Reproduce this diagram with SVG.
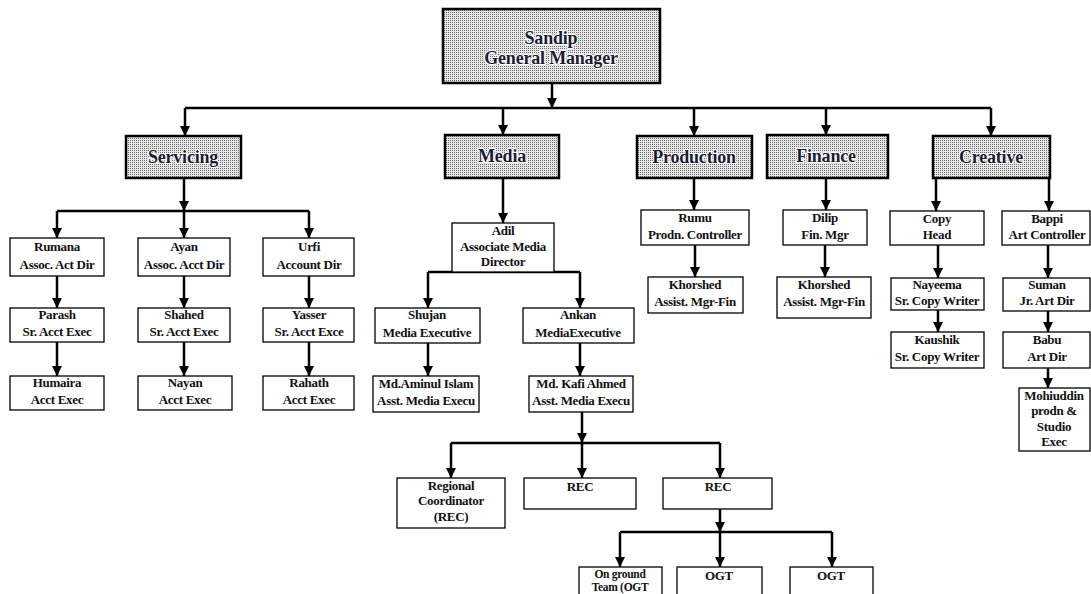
<svg xmlns="http://www.w3.org/2000/svg" width="1091" height="594" viewBox="0 0 1091 594" font-family="'Liberation Serif', 'Times New Roman', Tinos, 'DejaVu Serif', serif">
<style>
.box{fill:#fff;stroke:#000;stroke-width:1.3}
.hdr{fill:url(#dots);stroke:#000;stroke-width:2.5}
text{font-family:'Liberation Serif','Times New Roman',Tinos,'DejaVu Serif',serif}
.t{font-weight:bold;font-size:13px;text-anchor:middle;fill:#111;letter-spacing:-0.3px}
.ht{font-size:18px;fill:#1b1b33;stroke:#fff;stroke-width:2.2;paint-order:stroke;stroke-linejoin:round;letter-spacing:-0.2px}
.sm{font-size:11.5px}
.c{stroke:#000;stroke-width:2.5;fill:none}
.a{marker-end:url(#arr)}
</style>
<defs>
<pattern id="dots" width="2" height="2" patternUnits="userSpaceOnUse">
<rect width="2" height="2" fill="#e6e6e6"/>
<rect width="1" height="1" fill="#6e6e6e"/>
</pattern>
<marker id="arr" markerUnits="userSpaceOnUse" markerWidth="11" markerHeight="11" refX="10" refY="5" orient="auto">
<path d="M0,0 L10,5 L0,10 z" fill="#000"/>
</marker>
</defs>

<g id="connectors">
<path class="c a" d="M552,83 V108"/>
<path class="c" d="M185,108 H991"/>
<path class="c a" d="M185,108 V136"/>
<path class="c a" d="M503,108 V135"/>
<path class="c a" d="M694,108 V136"/>
<path class="c a" d="M826,108 V135"/>
<path class="c a" d="M991,108 V136"/>
<path class="c a" d="M184,178 V211"/>
<path class="c" d="M57,211 H309"/>
<path class="c a" d="M57,211 V238"/>
<path class="c a" d="M184,211 V238"/>
<path class="c a" d="M309,211 V238"/>
<path class="c a" d="M57,276 V308"/>
<path class="c a" d="M184,276 V308"/>
<path class="c a" d="M309,276 V308"/>
<path class="c a" d="M57,342 V376"/>
<path class="c a" d="M184,342 V376"/>
<path class="c a" d="M309,342 V376"/>
<path class="c a" d="M503,178 V223"/>
<path class="c" d="M428,272 H580"/>
<path class="c a" d="M428,272 V308"/>
<path class="c a" d="M580,272 V308"/>
<path class="c a" d="M428,343 V376"/>
<path class="c a" d="M580,343 V376"/>
<path class="c a" d="M582,412 V443"/>
<path class="c" d="M451,443 H720"/>
<path class="c a" d="M451,443 V478"/>
<path class="c a" d="M582,443 V478"/>
<path class="c a" d="M720,443 V478"/>
<path class="c a" d="M720,509 V532"/>
<path class="c" d="M620,532 H832"/>
<path class="c a" d="M620,532 V567"/>
<path class="c a" d="M720,532 V567"/>
<path class="c a" d="M832,532 V567"/>
<path class="c a" d="M694,178 V210"/>
<path class="c a" d="M695,245 V277"/>
<path class="c a" d="M826,178 V210"/>
<path class="c a" d="M825,245 V277"/>
<path class="c a" d="M936,178 V211"/>
<path class="c a" d="M1049,178 V211"/>
<path class="c a" d="M938,245 V278"/>
<path class="c a" d="M938,310 V332"/>
<path class="c a" d="M1048,245 V278"/>
<path class="c a" d="M1048,311 V332"/>
<path class="c a" d="M1048,368 V388"/>
</g>

<g id="gm"><rect class="hdr" x="443" y="9" width="217" height="74"/><text class="t ht" x="551" y="44">Sandip</text><text class="t ht" x="551" y="64">General Manager</text></g>
<g id="servicing"><rect class="hdr" x="126" y="136" width="115" height="42"/><text class="t ht" x="183" y="163">Servicing</text></g>
<g id="media"><rect class="hdr" x="445" y="135" width="114" height="43"/><text class="t ht" x="502" y="162">Media</text></g>
<g id="production"><rect class="hdr" x="637" y="136" width="115" height="42"/><text class="t ht" x="694" y="163">Production</text></g>
<g id="finance"><rect class="hdr" x="767" y="135" width="121" height="43"/><text class="t ht" x="826" y="162">Finance</text></g>
<g id="creative"><rect class="hdr" x="933" y="136" width="117" height="42"/><text class="t ht" x="991" y="163">Creative</text></g>

<g id="rumana"><rect class="box" x="10" y="238" width="94" height="38"/><text class="t" x="57" y="251">Rumana</text><text class="t" x="57" y="269">Assoc. Act Dir</text></g>
<g id="ayan"><rect class="box" x="138" y="238" width="92" height="38"/><text class="t" x="184" y="251">Ayan</text><text class="t" x="184" y="269">Assoc. Acct Dir</text></g>
<g id="urfi"><rect class="box" x="263" y="238" width="91" height="38"/><text class="t" x="309" y="251">Urfi</text><text class="t" x="309" y="269">Account Dir</text></g>
<g id="parash"><rect class="box" x="10" y="308" width="94" height="34"/><text class="t" x="57" y="319">Parash</text><text class="t" x="57" y="336">Sr. Acct Exec</text></g>
<g id="shahed"><rect class="box" x="138" y="308" width="92" height="34"/><text class="t" x="184" y="319">Shahed</text><text class="t" x="184" y="336">Sr. Acct Exec</text></g>
<g id="yasser"><rect class="box" x="263" y="308" width="91" height="34"/><text class="t" x="309" y="319">Yasser</text><text class="t" x="309" y="336">Sr. Acct Exce</text></g>
<g id="humaira"><rect class="box" x="10" y="376" width="94" height="34"/><text class="t" x="57" y="387">Humaira</text><text class="t" x="57" y="404">Acct Exec</text></g>
<g id="nayan"><rect class="box" x="138" y="376" width="94" height="34"/><text class="t" x="185" y="387">Nayan</text><text class="t" x="185" y="404">Acct Exec</text></g>
<g id="rahath"><rect class="box" x="263" y="376" width="91" height="34"/><text class="t" x="309" y="387">Rahath</text><text class="t" x="309" y="404">Acct Exec</text></g>

<g id="adil"><rect class="box" x="452" y="223" width="102" height="49"/><text class="t" x="503" y="235">Adil</text><text class="t" x="503" y="251">Associate Media</text><text class="t" x="503" y="266">Director</text></g>
<g id="shujan"><rect class="box" x="375" y="308" width="105" height="35"/><text class="t" x="427" y="319">Shujan</text><text class="t" x="427" y="337">Media Executive</text></g>
<g id="ankan"><rect class="box" x="523" y="308" width="111" height="35"/><text class="t" x="578" y="319">Ankan</text><text class="t" x="578" y="337">MediaExecutive</text></g>
<g id="aminul"><rect class="box" x="373" y="376" width="106" height="36"/><text class="t" x="426" y="388">Md.Aminul Islam</text><text class="t" x="426" y="405">Asst. Media Execu</text></g>
<g id="kafi"><rect class="box" x="529" y="376" width="104" height="36"/><text class="t" x="581" y="388">Md. Kafi Ahmed</text><text class="t" x="581" y="405">Asst. Media Execu</text></g>
<g id="regional"><rect class="box" x="397" y="478" width="108" height="50"/><text class="t" x="451" y="490">Regional</text><text class="t" x="451" y="505">Coordinator</text><text class="t" x="451" y="521">(REC)</text></g>
<g id="rec1"><rect class="box" x="524" y="478" width="112" height="31"/><text class="t" x="580" y="491">REC</text></g>
<g id="rec2"><rect class="box" x="663" y="478" width="109" height="31"/><text class="t" x="718" y="491">REC</text></g>
<g id="onground"><rect class="box" x="579" y="567" width="83" height="40"/><text class="t sm" x="620" y="578">On ground</text><text class="t sm" x="620" y="591">Team (OGT</text></g>
<g id="ogt1"><rect class="box" x="677" y="567" width="85" height="40"/><text class="t" x="719" y="580">OGT</text></g>
<g id="ogt2"><rect class="box" x="790" y="567" width="83" height="40"/><text class="t" x="831" y="580">OGT</text></g>

<g id="rumu"><rect class="box" x="641" y="210" width="108" height="35"/><text class="t" x="695" y="222">Rumu</text><text class="t" x="695" y="239">Prodn. Controller</text></g>
<g id="khorshed1"><rect class="box" x="648" y="277" width="95" height="36"/><text class="t" x="695" y="289">Khorshed</text><text class="t" x="695" y="306">Assist. Mgr-Fin</text></g>
<g id="dilip"><rect class="box" x="783" y="210" width="84" height="35"/><text class="t" x="825" y="222">Dilip</text><text class="t" x="825" y="239">Fin. Mgr</text></g>
<g id="khorshed2"><rect class="box" x="777" y="277" width="94" height="41"/><text class="t" x="824" y="289">Khorshed</text><text class="t" x="824" y="306">Assist. Mgr-Fin</text></g>

<g id="copyhead"><rect class="box" x="890" y="211" width="94" height="34"/><text class="t" x="937" y="223">Copy</text><text class="t" x="937" y="239">Head</text></g>
<g id="nayeema"><rect class="box" x="891" y="278" width="93" height="32"/><text class="t" x="937" y="289">Nayeema</text><text class="t" x="937" y="305">Sr. Copy Writer</text></g>
<g id="kaushik"><rect class="box" x="891" y="332" width="93" height="36"/><text class="t" x="937" y="344">Kaushik</text><text class="t" x="937" y="361">Sr. Copy Writer</text></g>
<g id="bappi"><rect class="box" x="1002" y="211" width="88" height="34"/><text class="t" x="1047" y="223">Bappi</text><text class="t" x="1047" y="239">Art Controller</text></g>
<g id="suman"><rect class="box" x="1003" y="278" width="87" height="33"/><text class="t" x="1047" y="289">Suman</text><text class="t" x="1047" y="305">Jr. Art Dir</text></g>
<g id="babu"><rect class="box" x="1003" y="332" width="87" height="36"/><text class="t" x="1047" y="344">Babu</text><text class="t" x="1047" y="361">Art Dir</text></g>
<g id="mohiuddin"><rect class="box" x="1019" y="388" width="71" height="63"/><text class="t" x="1054" y="400">Mohiuddin</text><text class="t" x="1054" y="415">prodn &amp;</text><text class="t" x="1054" y="431">Studio</text><text class="t" x="1054" y="446">Exec</text></g>
</svg>
